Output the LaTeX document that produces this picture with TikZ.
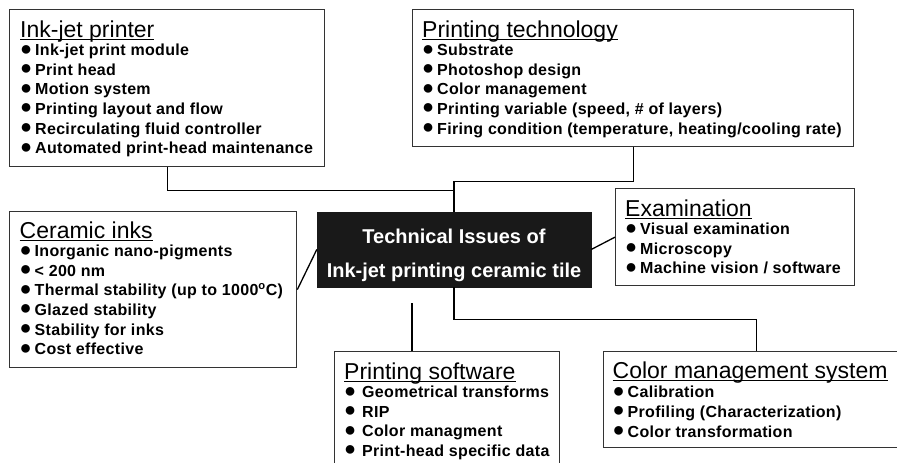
\documentclass[tikz,border=0pt]{standalone}
\usepackage{fontspec}
\setmainfont{Liberation Sans}
\newfontfamily\itemfont[LetterSpace=2]{Liberation Sans}
\usetikzlibrary{positioning}

\newcommand\heading[1]{{\normalfont\fontsize{23}{27}\selectfont\setbox0\hbox{#1}\rlap{\rule[-2.6pt]{\wd0}{1.3pt}}\rule{0pt}{18pt}\box0}}
\newcommand\blob{\raisebox{0.6pt}{\normalfont\fontsize{20}{20}\selectfont ●}}
\newcommand\itm{\makebox[15pt][l]{\blob}}
\newcommand\itmw{\makebox[18pt][l]{\blob}}

\begin{document}
\begin{tikzpicture}[x=1pt,y=-1pt]
  \tikzstyle{box} = [draw=black!80, line width=1.3pt, anchor=north west, inner sep=0pt]
  \tikzstyle{txt} = [align=left, inner sep=0pt,
                     font=\itemfont\bfseries\fontsize{16}{19.6}\selectfont]
  \tikzstyle{hub} = [fill=black!90, draw=black!90, minimum width=274pt,
                     minimum height=75pt, inner sep=0pt]
  \tikzstyle{hubtext} = [text=white, align=center, inner sep=0pt,
                         font=\normalfont\bfseries\fontsize{20}{33.3}\selectfont]
\tikzset{link/.style={line width=1.3pt}}

\useasboundingbox (0,0) rectangle (897,463);
\clip (0,0) rectangle (897,463);

\node[box, minimum width=315pt, minimum height=157pt] (printer) at (9,9) {};
\node[box, minimum width=441pt, minimum height=137pt] (tech) at (412,9) {};
\node[box, minimum width=287pt, minimum height=156pt] (ceramic) at (9,211) {};
\node[box, minimum width=239pt, minimum height=97pt] (exam) at (615,188) {};
\node[box, minimum width=225pt, minimum height=130pt] (software) at (334,351) {};
\node[box, minimum width=306pt, minimum height=96pt] (cms) at (603,351) {};
\node[hub] (hub) at (454,249.5) {};

\node[txt, below right=10pt and 11pt of printer.north west] (printertext)
  {\heading{Ink-jet printer}\\[-1.1pt]
   \itm Ink-jet print module\\
   \itm Print head\\
   \itm Motion system\\
   \itm Printing layout and flow\\
   \itm Recirculating fluid controller\\
   \itm Automated print-head maintenance};
\node[txt, below right=10pt and 10pt of tech.north west] (techtext)
  {\heading{Printing technology}\\[-1.1pt]
   \itm Substrate\\
   \itm Photoshop design\\
   \itm Color management\\
   \itm Printing variable (speed, \# of layers)\\
   \itm Firing condition (temperature, heating/cooling rate)};
\node[txt, below right=9pt and 10.5pt of ceramic.north west] (ceramictext)
  {\heading{Ceramic inks}\\[-1.1pt]
   \itm Inorganic nano-pigments\\
   \itm < 200 nm\\
   \itm Thermal stability (up to 1000\textsuperscript{o}C)\\
   \itm Glazed stability\\
   \itm Stability for inks\\
   \itm Cost effective};
\node[txt, below right=10pt and 10pt of exam.north west] (examtext)
  {\heading{Examination}\\[-1.1pt]
   \itm Visual examination\\
   \itm Microscopy\\
   \itm Machine vision / software};
\node[txt, below right=10pt and 10pt of software.north west] (softwaretext)
  {\heading{Printing software}\\[-1.1pt]
   \itmw Geometrical transforms\\
   \itmw RIP\\
   \itmw Color managment\\
   \itmw Print-head specific data};
\node[txt, below right=9pt and 9.5pt of cms.north west] (cmstext)
  {\heading{Color management system}\\[0pt]
   \itm Calibration\\
   \itm Profiling (Characterization)\\
   \itm Color transformation};
\node[hubtext] (hubtitle) at ([shift={(0,6)}]hub)
  {Technical Issues of\\Ink-jet printing ceramic tile};

\draw[link] (printer.south) -- ++(0,23) -| (hub.north);
\draw[link] (tech.south) -- ++(0,34) -| (hub.north);
\draw[link] (ceramic.east) -- (hub.west);
\draw[link] (hub.east) -- (exam.west);
\draw[link] (hub.south) -- ++(0,32) -| (cms.north);
\coordinate (softtop) at (412,303);
\draw[link] (software.north -| softtop) -- (softtop);

\end{tikzpicture}
\end{document}
